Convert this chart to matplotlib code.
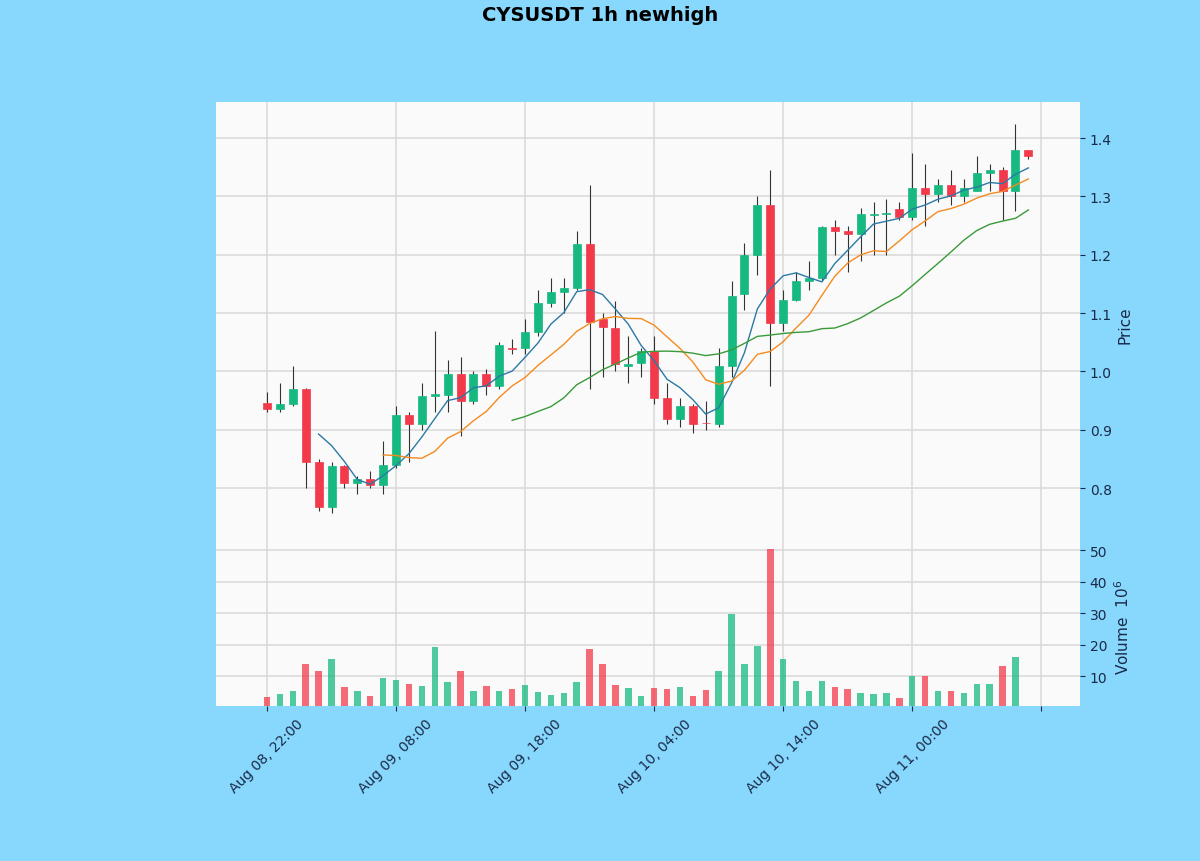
import matplotlib
matplotlib.use("Agg")
import matplotlib.pyplot as plt
import numpy as np
import pandas as pd

# hourly candles, Aug 08 22:00 onward
times = pd.date_range("2025-08-08 22:00", periods=60, freq="h")

opens = [0.946, 0.936, 0.945, 0.970, 0.845, 0.767, 0.838, 0.808, 0.815, 0.805,
         0.840, 0.925, 0.910, 0.958, 0.960, 0.995, 0.950, 0.995, 0.975, 1.040,
         1.040, 1.068, 1.118, 1.137, 1.143, 1.218, 1.090, 1.075, 1.010, 1.015,
         1.035, 0.955, 0.918, 0.940, 0.912, 0.910, 1.010, 1.133, 1.200, 1.285,
         1.083, 1.122, 1.155, 1.160, 1.248, 1.240, 1.236, 1.268, 1.270, 1.278,
         1.265, 1.315, 1.305, 1.320, 1.300, 1.310, 1.340, 1.345, 1.310, 1.380]
highs = [0.965, 0.980, 1.010, 0.972, 0.850, 0.845, 0.840, 0.820, 0.830, 0.880,
         0.940, 0.930, 0.980, 1.070, 1.020, 1.025, 1.000, 1.005, 1.050, 1.055,
         1.090, 1.140, 1.160, 1.160, 1.240, 1.320, 1.100, 1.120, 1.060, 1.040,
         1.060, 0.980, 0.955, 0.945, 0.950, 1.040, 1.155, 1.220, 1.300, 1.345,
         1.140, 1.170, 1.190, 1.250, 1.260, 1.250, 1.280, 1.290, 1.295, 1.290,
         1.375, 1.355, 1.330, 1.345, 1.330, 1.370, 1.355, 1.350, 1.425, 1.380]
lows = [0.930, 0.930, 0.940, 0.800, 0.760, 0.757, 0.800, 0.790, 0.800, 0.790,
        0.835, 0.845, 0.900, 0.930, 0.930, 0.890, 0.945, 0.960, 0.970, 1.030,
        1.030, 1.060, 1.110, 1.100, 1.140, 0.970, 0.990, 1.000, 0.980, 0.990,
        0.945, 0.910, 0.905, 0.895, 0.900, 0.905, 0.990, 1.105, 1.165, 0.975,
        1.070, 1.120, 1.140, 1.155, 1.200, 1.170, 1.190, 1.200, 1.200, 1.260,
        1.260, 1.250, 1.290, 1.285, 1.290, 1.310, 1.310, 1.260, 1.275, 1.365]
closes = [0.936, 0.945, 0.970, 0.845, 0.767, 0.838, 0.808, 0.815, 0.805, 0.840,
          0.925, 0.910, 0.958, 0.962, 0.995, 0.950, 0.995, 0.975, 1.045, 1.038,
          1.068, 1.118, 1.137, 1.143, 1.218, 1.085, 1.077, 1.012, 1.013, 1.035,
          0.955, 0.918, 0.940, 0.910, 0.911, 1.010, 1.130, 1.200, 1.285, 1.083,
          1.122, 1.155, 1.160, 1.248, 1.240, 1.236, 1.270, 1.270, 1.272, 1.265,
          1.315, 1.305, 1.320, 1.300, 1.315, 1.340, 1.345, 1.310, 1.380, 1.370]
# volume in millions
volumes = [3.4, 4.3, 5.2, 13.8, 11.6, 15.4, 6.6, 5.2, 3.75, 9.4,
           8.7, 7.4, 6.8, 19.3, 8.2, 11.6, 5.2, 6.8, 5.2, 6.0,
           7.0, 4.9, 4.1, 4.6, 8.2, 18.6, 13.8, 7.0, 6.2, 3.75,
           6.2, 6.0, 6.5, 3.75, 5.5, 11.6, 29.7, 13.8, 19.5, 50.3,
           15.4, 8.4, 5.2, 8.4, 6.5, 6.0, 4.6, 4.3, 4.6, 3.0,
           10.1, 9.9, 5.2, 5.2, 4.6, 7.4, 7.4, 13.2, 16.0, 0.6]

mav = [5, 10, 20]
mav_colors = ["#2a7aa5", "#f58a1f", "#3a9a3a"]

up_col = "#16b97f"
down_col = "#f23a4b"
bg = "#87d8fc"

o = np.array(opens)
h = np.array(highs)
l = np.array(lows)
c = np.array(closes)
v = np.array(volumes)
x = np.arange(len(c))
is_up = c >= o
cols = np.where(is_up, up_col, down_col)

fig = plt.figure(figsize=(12, 8.62), dpi=100, facecolor=bg)
ax = fig.add_axes([0.18, 0.3643, 0.72, 0.5162])
axv = fig.add_axes([0.18, 0.1798, 0.72, 0.1845], sharex=ax)

for a in (ax, axv):
    a.set_facecolor("#fafafa")
    a.grid(True, color="#d9d9d9", linewidth=1.1)
    a.set_axisbelow(True)
    for s in a.spines.values():
        s.set_visible(False)
    a.yaxis.tick_right()
    a.yaxis.set_label_position("right")
    a.tick_params(colors="#1a2a4a", labelsize=10)

# candles
ax.vlines(x, l, h, color="#333333", linewidth=0.8, zorder=2)
ax.bar(x, np.abs(c - o), bottom=np.minimum(o, c), width=0.62,
       color=cols, edgecolor=cols, linewidth=0.5, zorder=3)

closes_s = pd.Series(c)
for n, col in zip(mav, mav_colors):
    ax.plot(x, closes_s.rolling(n).mean(), color=col, linewidth=1.0, zorder=4)

ax.set_ylim(0.699, 1.462)
ax.set_yticks([0.8, 0.9, 1.0, 1.1, 1.2, 1.3, 1.4])
ax.set_ylabel("Price", fontsize=11, color="#1a2a4a")
plt.setp(ax.get_xticklabels(), visible=False)

# volume
axv.bar(x, v, width=0.5, color=cols, alpha=0.75, zorder=3)
axv.set_ylim(0.48, 51)
axv.set_yticks([10, 20, 30, 40, 50])
axv.set_ylabel("Volume  $10^{6}$", fontsize=11, color="#1a2a4a")

ticks = list(range(0, 61, 10))
labels = [times[t].strftime("%b %d, %H:%M") if t < len(times) else "" for t in ticks]
axv.set_xticks(ticks)
axv.set_xticklabels(labels, rotation=45, ha="center")
axv.set_xlim(-3.95, 63.0)

fig.suptitle("CYSUSDT 1h newhigh", fontsize=14, fontweight="bold", y=0.993)

fig.savefig("out.png", dpi=100, facecolor=bg)
